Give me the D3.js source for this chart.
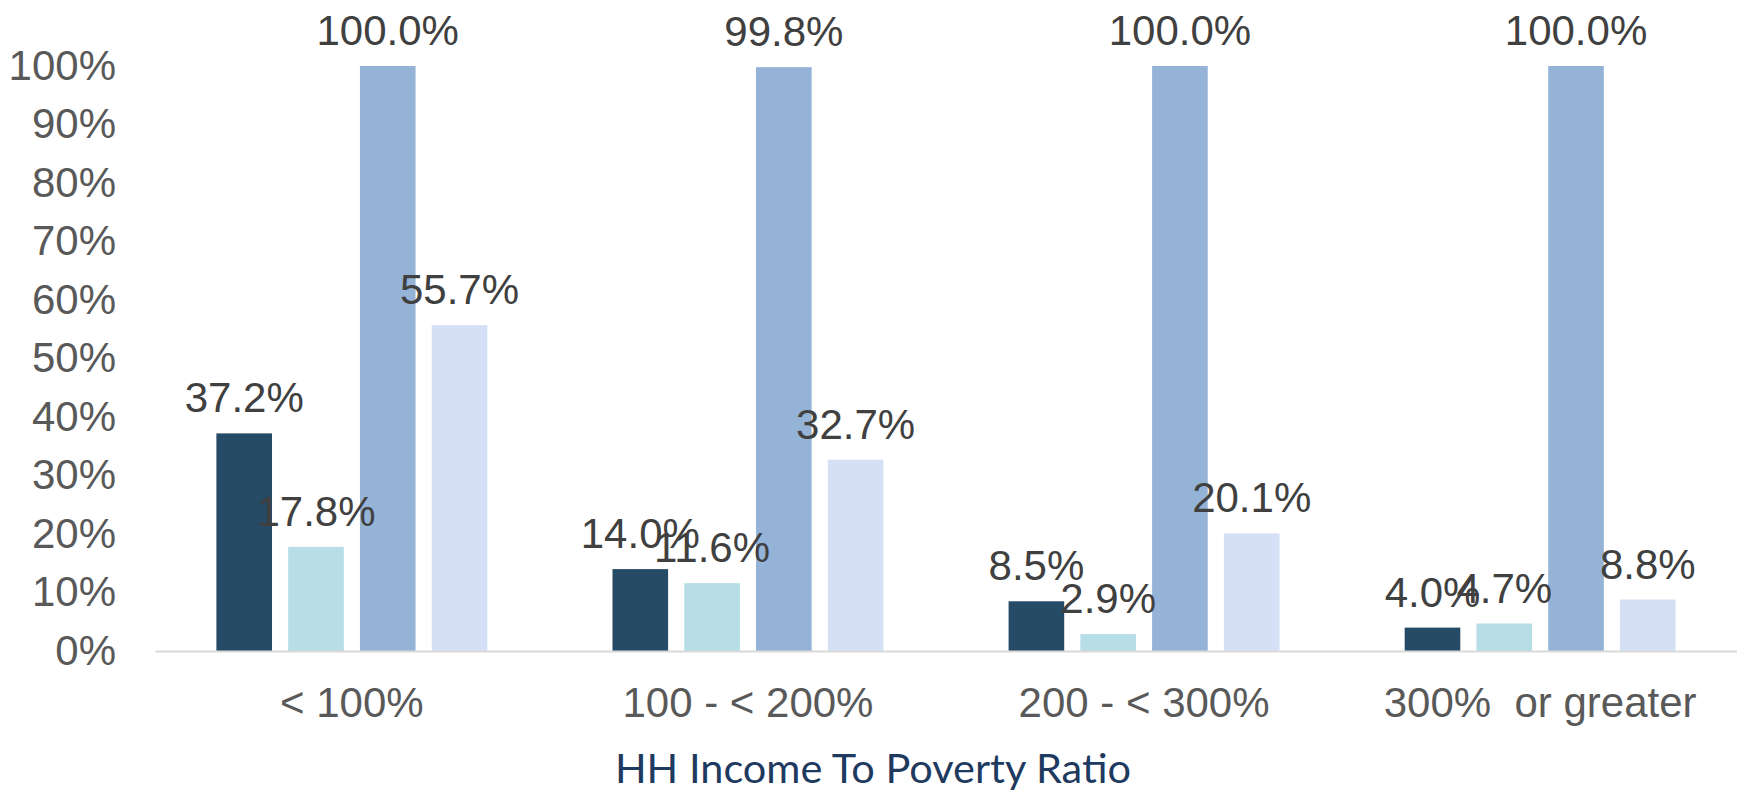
<!DOCTYPE html>
<html>

<head>
    <script src="https://d3js.org/d3.v7.min.js"></script>
    <style>
        body { margin: 0; background: #fff; }
        text { font-family: "Liberation Sans", Arial, sans-serif; }
    </style>
</head>

<body>
    <svg id="chart" width="1737" height="792"></svg>
    <script>
        // data
        const categories = ["< 100%", "100 - < 200%", "200 - < 300%", "300%  or greater"]
        const seriesA = [0.372, 0.140, 0.085, 0.040]
        const seriesB = [0.178, 0.116, 0.029, 0.047]
        const seriesC = [1.000, 0.998, 1.000, 1.000]
        const seriesD = [0.557, 0.327, 0.201, 0.088]
        const seriesNames = ["a", "b", "c", "d"]
        const colors = ["#264b66", "#b7dde7", "#95b3d7", "#d5e0f6"]
        const yTicks = [0, 0.1, 0.2, 0.3, 0.4, 0.5, 0.6, 0.7, 0.8, 0.9, 1.0]
        const axisTitle = "HH Income To Poverty Ratio"

        const allSeries = [seriesA, seriesB, seriesC, seriesD]
        const rows = categories.map((c, i) => ({
            cat: c,
            vals: allSeries.map((s, j) => ({ key: seriesNames[j], value: s[i], color: colors[j] }))
        }))

        const svg = d3.select("#chart")
        const plotLeft = 155, plotRight = 1737, plotTop = 66, plotBottom = 651

        const x0 = d3.scaleBand().domain(categories).range([plotLeft, plotRight])
            .paddingInner(0.316).paddingOuter(0.155)
        const x1 = d3.scaleBand().domain(seriesNames).range([0, x0.bandwidth()])
            .paddingInner(0.225)
        const y = d3.scaleLinear().domain([0, 1]).range([plotBottom, plotTop])

        // y axis
        const yAxis = svg.append("g")
            .attr("transform", `translate(${plotLeft},0)`)
            .call(d3.axisLeft(y).tickValues(yTicks).tickFormat(d3.format(".0%")).tickSize(0).tickPadding(39))
        yAxis.select(".domain").remove()
        yAxis.selectAll("text").attr("font-size", 42).attr("fill", "#595959")
            .style("font-family", "'Liberation Sans', Arial, sans-serif")

        // bars
        const groups = svg.append("g").selectAll("g")
            .data(rows).join("g")
            .attr("transform", d => `translate(${x0(d.cat)},0)`)

        groups.selectAll("rect")
            .data(d => d.vals).join("rect")
            .attr("x", d => x1(d.key))
            .attr("y", d => y(d.value))
            .attr("width", x1.bandwidth())
            .attr("height", d => y(0) - y(d.value))
            .attr("fill", d => d.color)

        // x axis
        const xAxis = svg.append("g")
            .attr("transform", `translate(0,${plotBottom})`)
            .call(d3.axisBottom(x0).tickSize(0).tickSizeOuter(0).tickPadding(36))
        xAxis.select(".domain").attr("stroke", "#d9d9d9").attr("stroke-width", 2)
        xAxis.selectAll("text").attr("font-size", 42).attr("fill", "#595959")
            .style("font-family", "'Liberation Sans', Arial, sans-serif")
            .style("white-space", "pre")

        // data labels on top of everything
        groups.selectAll("text.lbl")
            .data(d => d.vals).join("text")
            .attr("class", "lbl")
            .attr("x", d => x1(d.key) + x1.bandwidth() / 2)
            .attr("y", d => y(d.value) - 21)
            .attr("text-anchor", "middle")
            .attr("font-size", 42)
            .attr("fill", "#404040")
            .text(d => d3.format(".1%")(d.value))

        svg.append("text")
            .attr("x", 873)
            .attr("y", 783)
            .attr("text-anchor", "middle")
            .attr("font-size", 41.5)
            .attr("fill", "#1f3a5f")
            .style("font-family", "Lato, 'Open Sans', sans-serif")
            .text(axisTitle)
    </script>
</body>

</html>
